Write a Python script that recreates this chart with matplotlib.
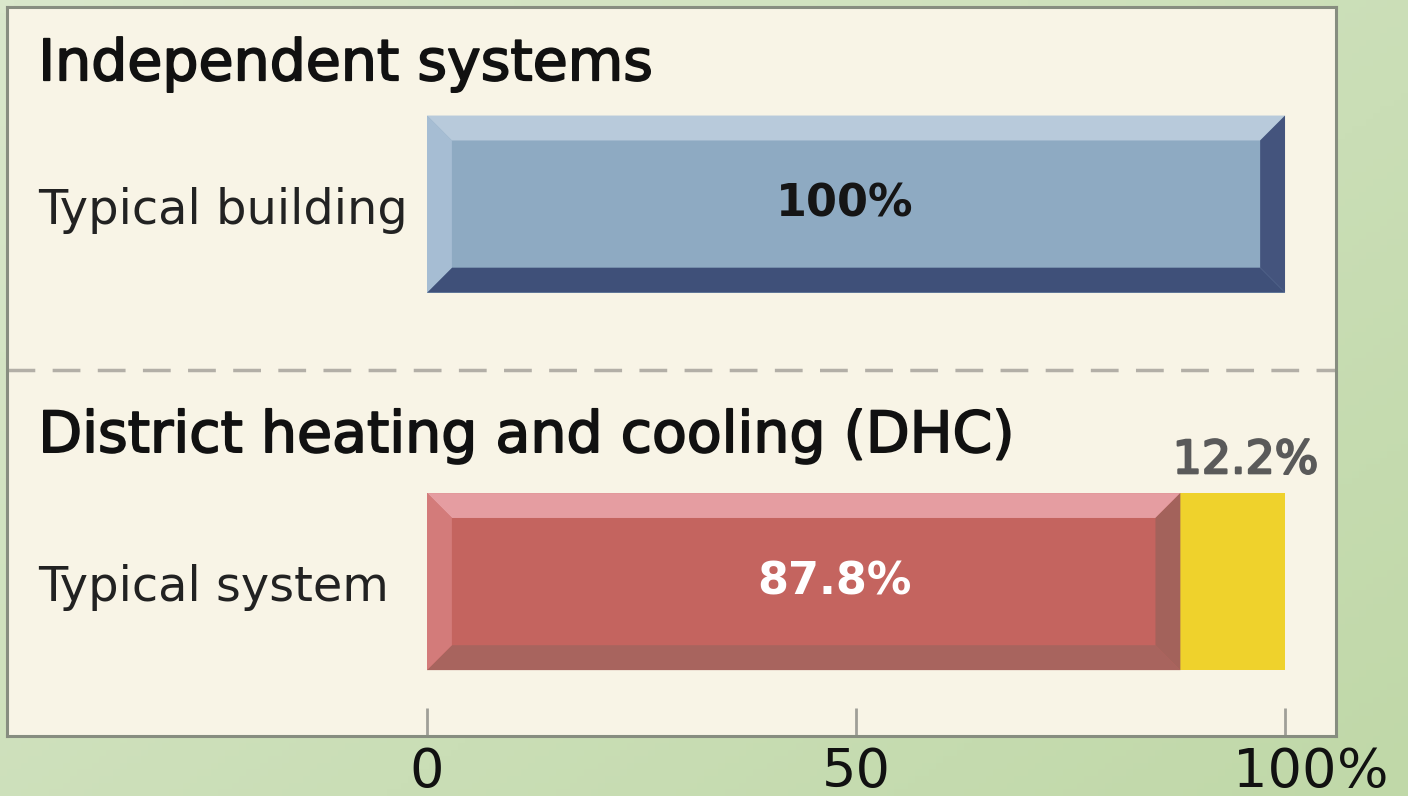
import numpy as np
import matplotlib.pyplot as plt
import matplotlib.patheffects as pe
from matplotlib.patches import Polygon
from matplotlib.colors import LinearSegmentedColormap

# energy use relative to a typical building (%)
group_titles = ["Independent systems", "District heating and cooling (DHC)"]
row_labels = ["Typical building", "Typical system"]
building_use = [100.0]
dhc_use = [87.8]
dhc_saving = [12.2]
tick_values = [0, 50, 100]
tick_labels = ["0", "50", "100"]

plt.rcParams["font.family"] = ["DejaVu Sans"]

fig = plt.figure(figsize=(14.08, 7.96), dpi=100, facecolor="#cfe0bd")

# soft green backdrop behind the panel
bg = fig.add_axes([0, 0, 1, 1], zorder=-5)
gx, gy = np.meshgrid(np.linspace(0, 1, 200), np.linspace(0, 1, 120))
grad = 0.55 * gx + 0.45 * (1 - gy)
green = LinearSegmentedColormap.from_list("g", ["#d9e7cb", "#c0d8a8"])
bg.imshow(grad, cmap=green, aspect="auto", extent=[0, 1, 0, 1], origin="lower")
bg.set_axis_off()

ax = fig.add_axes([7 / 1408, 60 / 796, (1336 - 7) / 1408, (789 - 60) / 796])
ax.set_facecolor("#f8f4e6")

rows = [0, 1]
bar_h = 0.469
dx, dy = 2.9, 0.066


def bevel(ax, left, width, y, h, top, bottom, lside, rside):
    x0, x1 = left, left + width
    y0, y1 = y - h / 2, y + h / 2
    pieces = [
        ([(x0, y0), (x1, y0), (x1 - dx, y0 + dy), (x0 + dx, y0 + dy)], top),
        ([(x0, y1), (x1, y1), (x1 - dx, y1 - dy), (x0 + dx, y1 - dy)], bottom),
        ([(x0, y0), (x0 + dx, y0 + dy), (x0 + dx, y1 - dy), (x0, y1)], lside),
        ([(x1, y0), (x1 - dx, y0 + dy), (x1 - dx, y1 - dy), (x1, y1)], rside),
    ]
    for pts, c in pieces:
        ax.add_patch(Polygon(pts, closed=True, facecolor=c, edgecolor="none", zorder=3))


ax.barh(rows[0], building_use[0], height=bar_h, left=0, color="#8eaac2", zorder=2)
bevel(ax, 0, building_use[0], rows[0], bar_h, "#b8cadb", "#3f5079", "#a6bdd3", "#44547d")

ax.barh(rows[1], dhc_use[0], height=bar_h, left=0, color="#c4645f", zorder=2)
bevel(ax, 0, dhc_use[0], rows[1], bar_h, "#e59da1", "#a8645e", "#d37b7a", "#a3625b")
ax.barh(rows[1], dhc_saving[0], height=bar_h, left=dhc_use[0], color="#efd22c", zorder=2)

# value labels
ax.text(48.7, rows[0], f"{building_use[0]:.0f}%", ha="center", va="center",
        fontsize=32, fontweight="bold", color="#151515", zorder=4)
ax.text(47.5, rows[1], f"{dhc_use[0]:.1f}%", ha="center", va="center",
        fontsize=32, fontweight="bold", color="white", zorder=4)
ax.text(dhc_use[0] + dhc_saving[0] / 2 + 1.5, 0.713, f"{dhc_saving[0]:.1f}%",
        ha="center", va="baseline", fontsize=33, color="#5a5a5a",
        path_effects=[pe.withStroke(linewidth=1.6, foreground="#5a5a5a")])

# group headings (slightly heavier than the row labels)
heavy = [pe.withStroke(linewidth=1.3, foreground="#111111")]
ax.text(-45.3, -0.328, group_titles[0], ha="left", va="baseline", fontsize=41,
        color="#111111", path_effects=heavy)
ax.text(-45.3, 0.657, group_titles[1], ha="left", va="baseline", fontsize=41,
        color="#111111", path_effects=heavy)
for r, lab in zip(rows, row_labels):
    ax.text(-45.3, r + 0.016, lab, ha="left", va="center", fontsize=34.5, color="#222222")

# divider between the two groups
ax.axhline(0.44, color="#b3afa7", lw=2.5, ls=(0, (8, 5)), zorder=1)

ax.set_xlim(-48.95, 105.94)
ax.set_ylim(1.409, -0.522)
ax.set_yticks([])
ax.set_xticks(tick_values)
ax.set_xticklabels(tick_labels, fontsize=39, color="#111111")
ax.tick_params(axis="x", direction="in", length=20, width=2, color="#a09f98", pad=7.5)
ax.annotate("%", xy=(100, 0), xycoords=("data", "axes fraction"), xytext=(37.5, -7.5),
            textcoords="offset points", ha="left", va="top", fontsize=39, color="#111111",
            annotation_clip=False)
for s in ax.spines.values():
    s.set_color("#878d80")
    s.set_linewidth(2.2)

fig.savefig("out.png", dpi=100, facecolor=fig.get_facecolor())
